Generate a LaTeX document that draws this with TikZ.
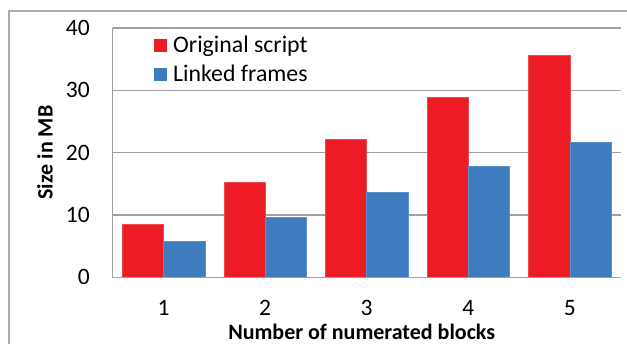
\documentclass[tikz,border=0pt]{standalone}
\usepackage{fontspec}
\setmainfont{Carlito}
\definecolor{barred}{HTML}{ED1C24}
\definecolor{barblue}{HTML}{3F7CBF}
\definecolor{gridgray}{HTML}{A0A0A0}
\definecolor{framegray}{HTML}{ABABAB}
\tikzset{
  ticklabel/.style={font=\fontsize{23.5}{28}\selectfont, inner sep=0pt},
  legendlabel/.style={font=\fontsize{23.8}{28}\selectfont, inner sep=0pt},
  axistitle/.style={font=\fontsize{22}{26}\selectfont\bfseries, inner sep=0pt},
  gridline/.style={draw=gridgray, line width=1.4pt},
  redbar/.style={fill=barred, draw=barred!80!white, line width=0.6pt},
  bluebar/.style={fill=barblue, draw=barblue!85!white, line width=0.6pt},
}
\begin{document}
\begin{tikzpicture}[x=1pt, y=-1pt]
  \clip (0,0) rectangle (627,344);
  % chart frame
  \draw[framegray, line width=1.2pt] (9,11) rectangle (660,380);
  % plot area: origin at the value axis / category axis corner
  \begin{scope}[shift={(112.7,277.3)}]
    \def\u{6.233}
    \def\cw{101.6}
    \def\bw{41.3}
    % gridlines
    \foreach \v in {10,20,30,40}
      \draw[gridline] (0,-\u*\v) -- (508,-\u*\v);
    % bars
    \foreach \i/\r/\b in {1/8.5/5.7, 2/15.3/9.7, 3/22.2/13.7, 4/28.9/17.8, 5/35.6/21.7} {
      \pgfmathsetmacro{\cx}{\cw*(\i-0.5)}
      \fill[redbar] (\cx-\bw,0) rectangle (\cx,-\u*\r);
      \fill[bluebar] (\cx,0) rectangle (\cx+\bw,-\u*\b);
      \node[ticklabel, anchor=base] (cat\i) at (\cx,38.7) {\i};
    }
    % axes
    \draw[gridline] (0,-\u*40) -- (0,0) -- (508,0);
    % value axis labels
    \foreach \v in {0,10,20,30,40}
      \node[ticklabel, anchor=east] (val\v) at (-22.7,-\u*\v) {\v};
    % axis titles
    \node[axistitle, anchor=base] (xtitle) at (249,62.5) {Number of numerated blocks};
  \end{scope}
  \node[axistitle, rotate=90] (ytitle) at (45,152.5) {Size in MB};
  % legend
  \fill[barred] (154,39.3) rectangle (167.3,52.3);
  \fill[barblue] (154,68.2) rectangle (167.3,81.2);
  \node[legendlabel, anchor=base west] (legorig) at (173,52.5) {Original script};
  \node[legendlabel, anchor=base west] (leglink) at (173,81.5) {Linked frames};
\end{tikzpicture}
\end{document}
